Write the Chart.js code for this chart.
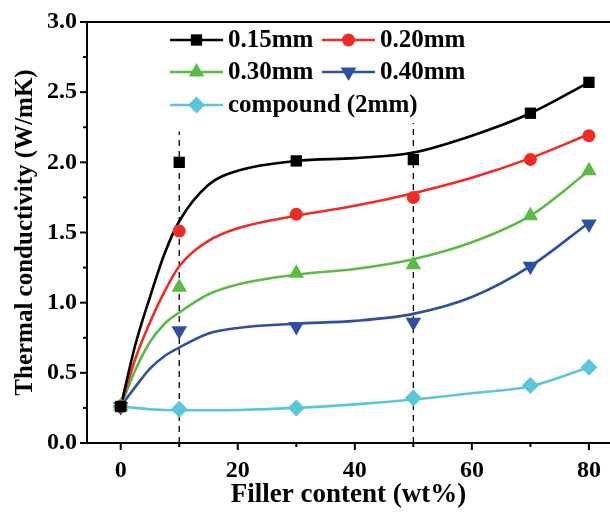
<!DOCTYPE html>
<html>
<head>
<meta charset="utf-8">
<title>Thermal conductivity vs filler content</title>
<script src="https://cdn.jsdelivr.net/npm/chart.js@4.4.0/dist/chart.umd.min.js"></script>
<style>
  body { margin: 0; background: #fff; }
  canvas { display: block; }
</style>
</head>
<body>
<canvas id="tcChart" width="610" height="515"></canvas>
<script>
// measured points (filler content, wt%)
const fillerX = [0, 10, 30, 50, 70, 80];
const tc015 = [0.26, 2.00, 2.01, 2.02, 2.35, 2.57];
const tc020 = [0.26, 1.51, 1.63, 1.75, 2.02, 2.19];
const tc030 = [0.26, 1.11, 1.21, 1.27, 1.62, 1.94];
const tc040 = [0.26, 0.80, 0.83, 0.86, 1.26, 1.56];
const tcCompound = [0.26, 0.24, 0.25, 0.32, 0.41, 0.54];

// fitted curves
const fitX = [0, 2.5, 5, 7.5, 10, 15, 20, 30, 40, 50, 60, 70, 80];
const fit015 = [0.26, 0.70, 1.04, 1.35, 1.58, 1.84, 1.94, 2.01, 2.03, 2.07, 2.19, 2.35, 2.57];
const fit020 = [0.26, 0.60, 0.86, 1.08, 1.26, 1.44, 1.53, 1.62, 1.69, 1.78, 1.89, 2.03, 2.20];
const fit030 = [0.26, 0.52, 0.72, 0.85, 0.93, 1.06, 1.13, 1.20, 1.24, 1.31, 1.43, 1.62, 1.94];
const fit040 = [0.26, 0.40, 0.53, 0.62, 0.68, 0.78, 0.82, 0.85, 0.87, 0.92, 1.04, 1.26, 1.57];
const fitCompound = [0.26, 0.25, 0.24, 0.235, 0.233, 0.233, 0.235, 0.25, 0.275, 0.31, 0.355, 0.405, 0.54];

// dashed guide lines
const guideX = [10, 50];
const guideTop = [2.22, 2.28];

const xTicks = [0, 10, 20, 30, 40, 50, 60, 70, 80];
const yTicks = [0, 0.25, 0.5, 0.75, 1.0, 1.25, 1.5, 1.75, 2.0, 2.25, 2.5, 2.75, 3.0];

const seriesNames = ['0.15mm', '0.20mm', '0.30mm', '0.40mm', 'compound (2mm)'];
const seriesColors = ['#000000', '#ef2b24', '#5cbb45', '#2f4fa2', '#5bc6da'];
const seriesShapes = ['rect', 'circle', 'triangle', 'triangleDown', 'rectRot'];

const SERIF = '"Liberation Serif", "Times New Roman", serif';

const pointsOf = (xs, ys) => xs.map((x, i) => ({ x: x, y: ys[i] }));

const markerSets = [tc015, tc020, tc030, tc040, tcCompound];
const fitSets = [fit015, fit020, fit030, fit040, fitCompound];

function markerStyle(shape) {
    if (shape === 'rect') return { pointStyle: 'rect', pointRadius: 8, pointRotation: 0 };
    if (shape === 'circle') return { pointStyle: 'circle', pointRadius: 6.5, pointRotation: 0 };
    if (shape === 'triangle') return { pointStyle: 'triangle', pointRadius: 9, pointRotation: 0 };
    if (shape === 'triangleDown') return { pointStyle: 'triangle', pointRadius: 9, pointRotation: 180 };
    return { pointStyle: 'rectRot', pointRadius: 8.5, pointRotation: 0 };
}

const datasets = [];
// markers first so they are painted on top
markerSets.forEach((ys, i) => {
    const m = markerStyle(seriesShapes[i]);
    datasets.push({
        label: seriesNames[i],
        data: pointsOf(fillerX, ys),
        showLine: false,
        backgroundColor: seriesColors[i],
        borderColor: seriesColors[i],
        borderWidth: 0,
        pointStyle: m.pointStyle,
        pointRadius: m.pointRadius,
        pointRotation: m.pointRotation,
        order: 1
    });
});
fitSets.forEach((ys, i) => {
    datasets.push({
        label: seriesNames[i] + ' fit',
        data: pointsOf(fitX, ys),
        showLine: true,
        borderColor: seriesColors[i],
        borderWidth: 2.6,
        pointRadius: 0,
        cubicInterpolationMode: 'monotone',
        order: 2
    });
});
guideX.forEach((gx, i) => {
    datasets.push({
        label: 'guide',
        data: [{ x: gx, y: 0 }, { x: gx, y: guideTop[i] }],
        showLine: true,
        borderColor: '#000',
        borderWidth: 1.3,
        borderDash: [6, 5],
        pointRadius: 0,
        order: 3
    });
});

function drawShape(ctx, shape, x, y, color) {
    const m = markerStyle(shape);
    ctx.save();
    ctx.fillStyle = color;
    ctx.beginPath();
    const r = m.pointRadius;
    if (m.pointStyle === 'rect') {
        const s = Math.SQRT1_2 * r;
        ctx.rect(x - s, y - s, 2 * s, 2 * s);
    } else if (m.pointStyle === 'circle') {
        ctx.arc(x, y, r, 0, Math.PI * 2);
    } else if (m.pointStyle === 'triangle') {
        const dir = m.pointRotation ? -1 : 1;
        ctx.moveTo(x, y - dir * r);
        ctx.lineTo(x + r * 0.866, y + dir * r / 2);
        ctx.lineTo(x - r * 0.866, y + dir * r / 2);
        ctx.closePath();
    } else {
        ctx.moveTo(x, y - r);
        ctx.lineTo(x + r, y);
        ctx.lineTo(x, y + r);
        ctx.lineTo(x - r, y);
        ctx.closePath();
    }
    ctx.fill();
    ctx.restore();
}

// axes frame, tick marks and the in-plot legend
const framePlugin = {
    id: 'frame',
    afterDraw(chart) {
        const ctx = chart.ctx;
        const area = chart.chartArea;
        const xs = chart.scales.x;
        const ys = chart.scales.y;
        ctx.save();
        ctx.strokeStyle = '#000';
        ctx.lineWidth = 2;
        ctx.beginPath();
        ctx.moveTo(area.left, area.top);
        ctx.lineTo(area.right + 2, area.top);
        ctx.moveTo(area.left, area.top - 1);
        ctx.lineTo(area.left, area.bottom);
        ctx.lineTo(area.right + 2, area.bottom);
        ctx.stroke();

        xTicks.forEach(v => {
            const px = xs.getPixelForValue(v);
            const len = v % 20 === 0 ? 7 : 4;
            ctx.beginPath();
            ctx.moveTo(px, area.bottom);
            ctx.lineTo(px, area.bottom + len);
            ctx.stroke();
        });
        yTicks.forEach(v => {
            const py = ys.getPixelForValue(v);
            const len = Math.abs(v * 2 - Math.round(v * 2)) < 1e-6 ? 7 : 4;
            ctx.beginPath();
            ctx.moveTo(area.left, py);
            ctx.lineTo(area.left - len, py);
            ctx.stroke();
        });

        // legend
        const rows = [
            { i: 0, x: 170, y: 40 }, { i: 1, x: 322, y: 40 },
            { i: 2, x: 170, y: 72 }, { i: 3, x: 322, y: 72 },
            { i: 4, x: 170, y: 105 }
        ];
        ctx.font = 'bold 25px ' + SERIF;
        ctx.textBaseline = 'middle';
        ctx.textAlign = 'left';
        rows.forEach(r => {
            ctx.strokeStyle = seriesColors[r.i];
            ctx.lineWidth = 2.6;
            ctx.beginPath();
            ctx.moveTo(r.x, r.y);
            ctx.lineTo(r.x + 53, r.y);
            ctx.stroke();
            drawShape(ctx, seriesShapes[r.i], r.x + 26.5, r.y, seriesColors[r.i]);
            ctx.fillStyle = '#000';
            ctx.fillText(seriesNames[r.i], r.x + 58, r.y + 1);
        });
        ctx.restore();
    }
};

new Chart(document.getElementById('tcChart'), {
    type: 'scatter',
    data: { datasets: datasets },
    options: {
        responsive: false,
        animation: false,
        layout: { autoPadding: false, padding: { top: 22, right: 0, left: 0, bottom: 0 } },
        plugins: {
            legend: { display: false },
            tooltip: { enabled: false }
        },
        scales: {
            x: {
                type: 'linear',
                min: -5.76,
                max: 83.6,
                afterBuildTicks: scale => {
                    scale.ticks = xTicks.map(v => ({ value: v }));
                },
                afterFit: scale => {
                    scale.height = 72;
                    scale.paddingLeft = 0;
                    scale.paddingRight = 0;
                },
                grid: { display: false, drawTicks: false },
                border: { display: false },
                ticks: {
                    color: '#000',
                    padding: 13,
                    autoSkip: false,
                    maxRotation: 0,
                    font: { family: SERIF, size: 24, weight: 'bold' },
                    callback: v => (v % 20 === 0 ? String(v) : '')
                },
                title: {
                    display: true,
                    text: 'Filler content (wt%)',
                    color: '#000',
                    padding: { top: 0, bottom: 4 },
                    font: { family: SERIF, size: 27, weight: 'bold' }
                }
            },
            y: {
                type: 'linear',
                min: 0,
                max: 3,
                afterBuildTicks: scale => {
                    scale.ticks = yTicks.map(v => ({ value: v }));
                },
                afterFit: scale => {
                    scale.width = 87;
                    scale.paddingTop = 0;
                    scale.paddingBottom = 0;
                },
                grid: { display: false, drawTicks: false },
                border: { display: false },
                ticks: {
                    color: '#000',
                    padding: 10,
                    autoSkip: false,
                    font: { family: SERIF, size: 24, weight: 'bold' },
                    callback: v => (Math.abs(v * 2 - Math.round(v * 2)) < 1e-6 ? v.toFixed(1) : '')
                },
                title: {
                    display: true,
                    text: 'Thermal conductivity (W/mK)',
                    color: '#000',
                    padding: { top: 11, bottom: 0 },
                    font: { family: SERIF, size: 25, weight: 'bold' }
                }
            }
        }
    },
    plugins: [framePlugin]
});
</script>
</body>
</html>
